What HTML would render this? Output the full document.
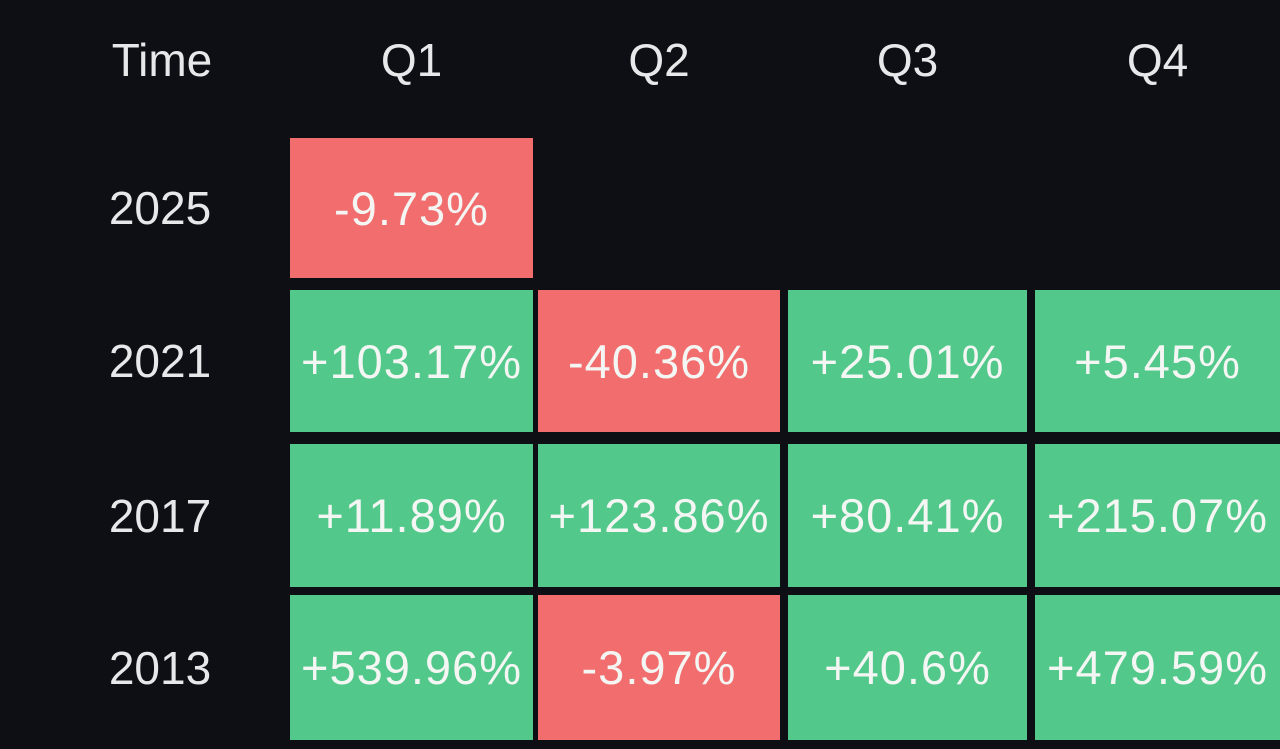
<!DOCTYPE html>
<html><head><meta charset="utf-8"><style>
body{margin:0;width:1280px;height:749px;background:#0d0f14;overflow:hidden;font-family:"Liberation Sans Narrow","Liberation Sans",sans-serif;color:#eef0f2}
#chart{position:relative;width:1280px;height:749px}
.t{position:absolute;text-align:center;transform:translate(-50%,-50%);white-space:nowrap}
.h{font-size:46px;color:#e6e8ea}
.cell{position:absolute;display:flex;align-items:center;justify-content:center;font-size:47px;color:#f4f6f4;letter-spacing:1px;white-space:nowrap;overflow:hidden}
</style></head><body>
<div id="chart"></div>
<script>
const quarters=["Q1","Q2","Q3","Q4"];
const years=["2025","2021","2017","2013"];
const returns2025=[-9.73,null,null,null];
const returns2021=[103.17,-40.36,25.01,5.45];
const returns2017=[11.89,123.86,80.41,215.07];
const returns2013=[539.96,-3.97,40.6,479.59];
const rows=[returns2025,returns2021,returns2017,returns2013];
const colX=[290,538,788,1035], colW=[243,242,239,245];
const rowY=[138,290,444,595], rowH=[140,142,143,145];
const c=document.getElementById('chart');
const hx=document.createElement('div');hx.className='t h';hx.style.left='162px';hx.style.top='60px';hx.textContent='Time';


c.appendChild(hx);
quarters.forEach((q,i)=>{const d=document.createElement('div');d.className='t h';d.style.left=(colX[i]+colW[i]/2)+'px';d.style.top='60px';d.textContent=q;


c.appendChild(d);});
years.forEach((y,r)=>{const d=document.createElement('div');d.className='t h';d.style.left='160px';d.style.top=(rowY[r]+rowH[r]/2)+'px';d.textContent=y;


c.appendChild(d);
rows[r].forEach((v,i)=>{if(v===null)return;const e=document.createElement('div');e.className='cell';
e.style.left=colX[i]+'px';e.style.top=rowY[r]+'px';e.style.width=colW[i]+'px';e.style.height=rowH[r]+'px';
e.style.background=v<0?'#f26e6e':'#52c98a';
e.textContent=(v>0?'+':'')+v+'%';


c.appendChild(e);});});
</script>
</body></html>
